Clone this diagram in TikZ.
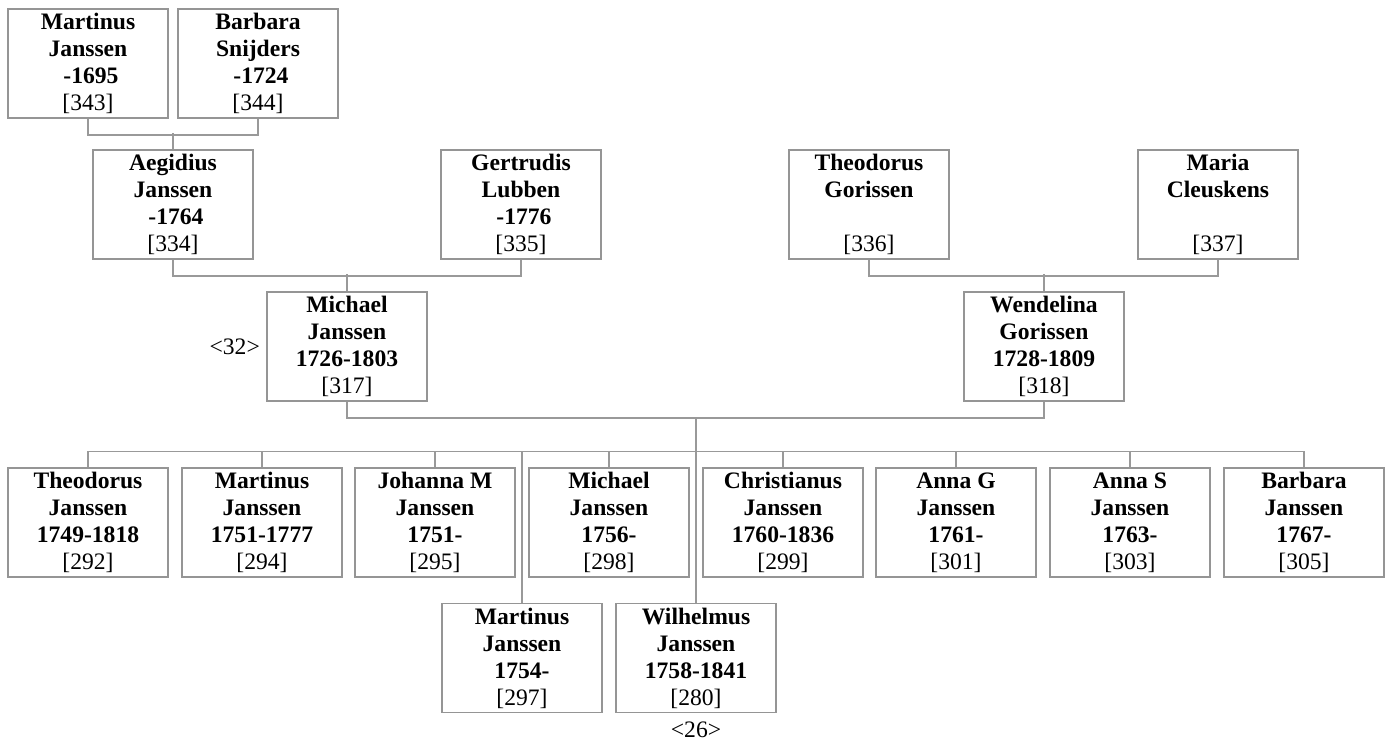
\documentclass[tikz,border=0pt]{standalone}
\usepackage{fontspec}
\setmainfont{Liberation Serif}
\usepackage{tikz}
\usetikzlibrary{positioning, calc}
\usepackage{xcolor}
\definecolor{BoxGray}{HTML}{959595}
\definecolor{LineGray}{HTML}{999999}
\tikzset{
    % Person box - fixed size, names in bold
    person/.style={
        rectangle,
        draw=BoxGray,
        fill=white,
        line width=0.75pt,
        minimum width=80pt,
        minimum height=54.5pt,
        inner sep=0pt,
        align=center,
        font=\fontsize{11.8pt}{13.5pt}\selectfont\bfseries
    },
    % Connector lines - straight, no tips
    link/.style={
        line width=0.75pt,
        draw=LineGray
    },
    % Page references like <32>
    pageref/.style={
        inner sep=0pt,
        font=\fontsize{11.8pt}{13.5pt}\selectfont
    }
}
\newcommand{\lead}{\hspace*{0.25em}}

\begin{document}
\begin{tikzpicture}[x=0.5pt, y=-0.5pt]
    \useasboundingbox (0,0) rectangle (1389,740);

    % Great-grandparents
    \node[person] (p343) at (88,63.5) {Martinus\\Janssen\\\lead-1695\\\mdseries[343]};
    \node[person] (p344) at (258,63.5) {Barbara\\Snijders\\\lead-1724\\\mdseries[344]};

    % Grandparents
    \node[person] (p334) at (173,204.5) {Aegidius\\Janssen\\\lead-1764\\\mdseries[334]};
    \node[person] (p335) at (521,204.5) {Gertrudis\\Lubben\\\lead-1776\\\mdseries[335]};
    \node[person] (p336) at (869,204.5) {Theodorus\\Gorissen\\\mbox{}\\\mdseries[336]};
    \node[person] (p337) at (1218,204.5) {Maria\\Cleuskens\\\mbox{}\\\mdseries[337]};

    % Parents
    \node[person] (p317) at (347,346.5) {Michael\\Janssen\\1726-1803\\\mdseries[317]};
    \node[person] (p318) at (1044,346.5) {Wendelina\\Gorissen\\1728-1809\\\mdseries[318]};
    \node[pageref, left=3pt of p317] (ref32) {<32>};

    % Children, first row
    \node[person] (p292) at (88,522.5) {Theodorus\\Janssen\\1749-1818\\\mdseries[292]};
    \node[person] (p294) at (262,522.5) {Martinus\\Janssen\\1751-1777\\\mdseries[294]};
    \node[person] (p295) at (435,522.5) {Johanna M\\Janssen\\1751-\\\mdseries[295]};
    \node[person] (p298) at (609,522.5) {Michael\\Janssen\\1756-\\\mdseries[298]};
    \node[person] (p299) at (783,522.5) {Christianus\\Janssen\\1760-1836\\\mdseries[299]};
    \node[person] (p301) at (956,522.5) {Anna G\\Janssen\\1761-\\\mdseries[301]};
    \node[person] (p303) at (1130,522.5) {Anna S\\Janssen\\1763-\\\mdseries[303]};
    \node[person] (p305) at (1304,522.5) {Barbara\\Janssen\\1767-\\\mdseries[305]};

    % Children, second row
    \node[person] (p297) at (522,658) {Martinus\\Janssen\\1754-\\\mdseries[297]};
    \node[person] (p280) at (696,658) {Wilhelmus\\Janssen\\1758-1841\\\mdseries[280]};
    \node[pageref, below=4pt of p280] (ref26) {<26>};

    % Lines to the great-grandparents
    \draw[link] (p343.south) -- ++(0,16) -| (p344.south);
    \draw[link] (p334.north) -- ++(0,-16);

    % Lines to the grandparents
    \draw[link] (p334.south) -- ++(0,16) -| (p335.south);
    \draw[link] (p317.north) -- ++(0,-17);
    \draw[link] (p336.south) -- ++(0,16) -| (p337.south);
    \draw[link] (p318.north) -- ++(0,-17);

    % Family line and children
    \draw[link] (p317.south) -- ++(0,16) coordinate (fam) -| (p318.south);
    \draw[link] (p292.north) -- ++(0,-16) coordinate (bus) -| (p305.north);
    \foreach \kid in {294,295,298,299,301,303}
        \draw[link] (p\kid.north) -- ++(0,-16);
    \draw[link] (p297.north) -- (p297.north |- bus);
    \draw[link] (p280.north) -- (p280.north |- fam);
\end{tikzpicture}
\end{document}
